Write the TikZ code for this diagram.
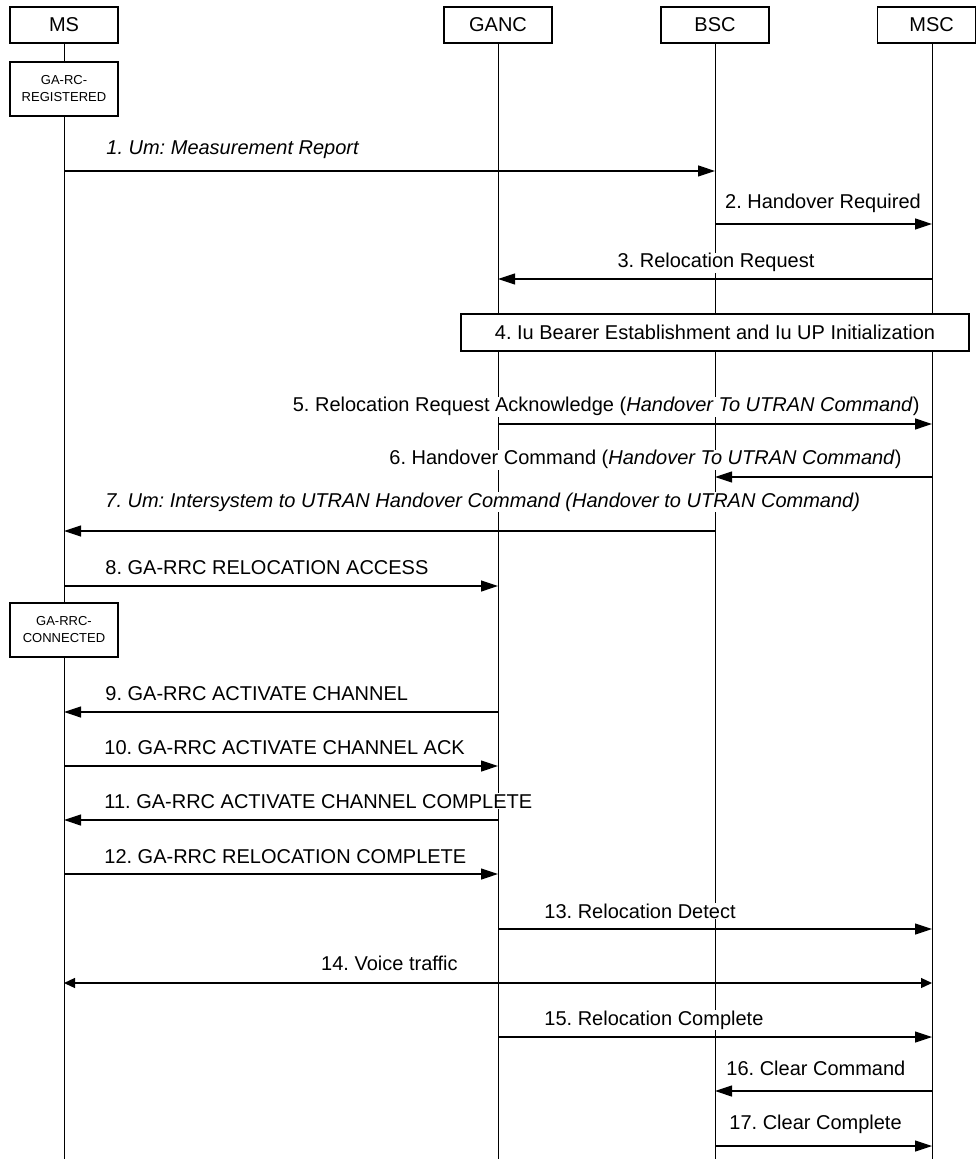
\documentclass[tikz,border=0pt]{standalone}
\usepackage{fontspec}
\setmainfont{Liberation Sans}
\usetikzlibrary{arrows.meta, positioning}

\begin{document}
\frenchspacing
\begin{tikzpicture}[x=0.5pt, y=-0.5pt,
        actor/.style={draw, fill=white, line width=0.6pt, minimum width=54pt,
            minimum height=18pt, inner sep=0pt, font=\fontsize{10}{12}\selectfont},
        state/.style={draw, fill=white, line width=0.6pt, minimum width=54pt,
            minimum height=27pt, inner sep=0pt, align=center,
            font=\fontsize{6.5}{8.5}\selectfont},
        phase/.style={draw, fill=white, line width=0.6pt, minimum width=254pt,
            minimum height=18.5pt, inner sep=0pt, font=\fontsize{10}{12}\selectfont},
        lbl/.style={fill=white, inner sep=0.5pt, font=\fontsize{10}{12}\selectfont},
        life/.style={line width=0.5pt},
        msg/.style={line width=0.6pt, -{Triangle[length=8.5pt, width=5.5pt]}},
        voice/.style={line width=0.6pt, {Triangle[length=5.5pt, width=5pt]}-{Triangle[length=5.5pt, width=5pt]}}
    ]
    \useasboundingbox (0,0) rectangle (976,1159);
    % entities
    \node[actor] (ms) at (64,25) {MS};
    \node[actor] (ganc) at (498,25) {GANC};
    \node[actor] (bsc) at (715,25) {BSC};
    \node[actor, minimum width=49pt, anchor=west] (msc) at (877,25) {\hspace*{5pt}MSC};
    \coordinate (mscl) at (932,43);
    \foreach \n in {ms,ganc,bsc} \draw[life] (\n.south) -- (\n |- 0,1159);
    \draw[life] (mscl) -- (mscl |- 0,1159);
    % states
    \node[state] (reg) at (64,89) {GA-RC-\\REGISTERED};
    \node[state] (con) at (64,630) {GA-RRC-\\CONNECTED};
    \node[phase] (iu) at (715,332.5) {4. Iu Bearer Establishment and Iu UP Initialization};
    % messages
    \node[lbl, anchor=base west] (t1) at (105,155) {\itshape 1. Um: Measurement Report};
    \draw[msg] (ms |- 0,171) -- (bsc |- 0,171);
    \node[lbl, anchor=base] (t2) at (823,209) {2. Handover Required};
    \draw[msg] (bsc |- 0,224) -- (mscl |- 0,224);
    \node[lbl, anchor=base] (t3) at (716,268) {3. Relocation Request};
    \draw[msg] (mscl |- 0,279) -- (ganc |- 0,279);
    \node[lbl, anchor=base east] (t5) at (921,412) {5. Relocation Request Acknowledge (\textit{Handover To UTRAN Command})};
    \draw[msg] (ganc |- 0,424) -- (mscl |- 0,424);
    \node[lbl, anchor=base east] (t6) at (903,465) {6. Handover Command (\textit{Handover To UTRAN Command})};
    \draw[msg] (mscl |- 0,477) -- (bsc |- 0,477);
    \node[lbl, anchor=base west] (t7) at (104,507) {\itshape 7. Um: Intersystem to UTRAN Handover Command (Handover to UTRAN Command)};
    \draw[msg] (bsc |- 0,531) -- (ms |- 0,531);
    \node[lbl, anchor=base west] (t8) at (104,574) {8. GA-RRC RELOCATION ACCESS};
    \draw[msg] (ms |- 0,586) -- (ganc |- 0,586);
    \node[lbl, anchor=base west] (t9) at (104,700) {9. GA-RRC ACTIVATE CHANNEL};
    \draw[msg] (ganc |- 0,712) -- (ms |- 0,712);
    \node[lbl, anchor=base west] (t10) at (103,754) {10. GA-RRC ACTIVATE CHANNEL ACK};
    \draw[msg] (ms |- 0,766) -- (ganc |- 0,766);
    \node[lbl, anchor=base west] (t11) at (103,808) {11. GA-RRC ACTIVATE CHANNEL COMPLETE};
    \draw[msg] (ganc |- 0,820) -- (ms |- 0,820);
    \node[lbl, anchor=base west] (t12) at (103,863) {12. GA-RRC RELOCATION COMPLETE};
    \draw[msg] (ms |- 0,874) -- (ganc |- 0,874);
    \node[lbl, anchor=base west] (t13) at (543,918) {13. Relocation Detect};
    \draw[msg] (ganc |- 0,929) -- (mscl |- 0,929);
    \node[lbl, anchor=base east] (t14) at (459,970) {14. Voice traffic};
    \draw[voice] (ms |- 0,983) -- (mscl |- 0,983);
    \node[lbl, anchor=base west] (t15) at (543,1025) {15. Relocation Complete};
    \draw[msg] (ganc |- 0,1037) -- (mscl |- 0,1037);
    \node[lbl, anchor=base west] (t16) at (725,1075) {16. Clear Command};
    \draw[msg] (mscl |- 0,1091) -- (bsc |- 0,1091);
    \node[lbl, anchor=base west] (t17) at (728,1129) {17. Clear Complete};
    \draw[msg] (bsc |- 0,1146) -- (mscl |- 0,1146);
\end{tikzpicture}
\end{document}
